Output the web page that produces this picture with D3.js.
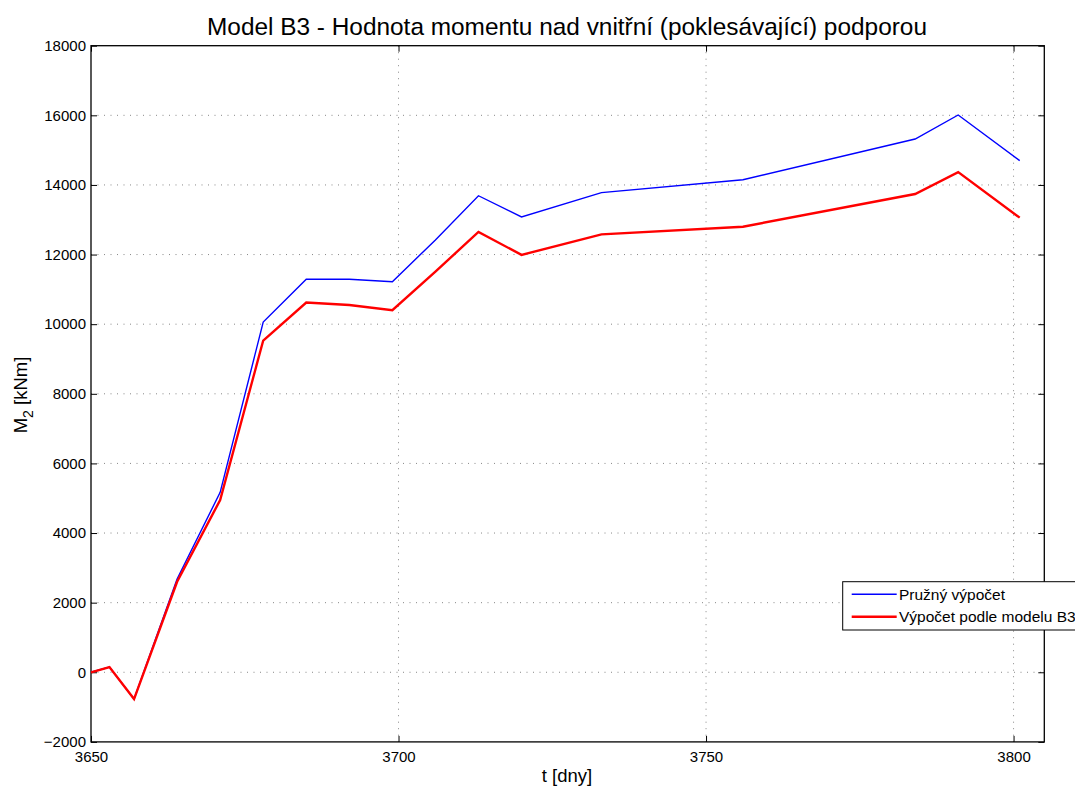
<!DOCTYPE html>
<html><head><meta charset="utf-8">
<script src="https://cdn.jsdelivr.net/npm/d3@7"></script>
<style>body{margin:0;background:#fff;} text{font-family:"Liberation Sans",Arial,sans-serif;}</style>
</head><body>
<svg id="c" width="1075" height="787"></svg>
<script>
const title = "Model B3 - Hodnota momentu nad vnitřní (poklesávající) podporou";
const tDays = [3650,3653,3657,3664,3671,3678,3685,3692,3699,3706,3713,3720,3733,3756,3784,3791,3801];
const elastic = [0,150,-770,2680,5170,10060,11290,11290,11220,12420,13690,13080,13780,14150,15320,16010,14700];
const modelB3 = [0,150,-770,2600,4950,9530,10620,10550,10400,11510,12650,11990,12580,12800,13740,14370,13060];
const xTicks = [3650,3700,3750,3800];
const yTicks = [-2000,0,2000,4000,6000,8000,10000,12000,14000,16000,18000];
const seriesNames = ["Pružný výpočet","Výpočet podle modelu B3"];
const seriesColors = ["#0000ff","#ff0000"];

const svg = d3.select("#c");
const L=91, R=1044.3, T=45.7, B=741.9;
const x = d3.scaleLinear().domain([3650,3805]).range([L,R]);
const y = d3.scaleLinear().domain([-2000,18000]).range([B,T]);

// grid
const g = svg.append("g");
g.selectAll(".gx").data(xTicks.filter(d=>d>3650)).enter().append("line")
  .attr("x1",d=>x(d)).attr("x2",d=>x(d)).attr("y1",T).attr("y2",B)
  .attr("stroke","#888").attr("stroke-width",1).attr("stroke-dasharray","1,5.5");
g.selectAll(".gy").data(yTicks.filter(d=>d>-2000 && d<18000)).enter().append("line")
  .attr("x1",L).attr("x2",R).attr("y1",d=>y(d)).attr("y2",d=>y(d))
  .attr("stroke","#888").attr("stroke-width",1).attr("stroke-dasharray","1,5.5");

// axes with inward ticks
const ax = svg.append("g");
const xb = ax.append("g").attr("transform",`translate(0,${B})`).call(d3.axisBottom(x).tickValues(xTicks).tickSize(-6).tickFormat(d3.format("d")));
const xt = ax.append("g").attr("transform",`translate(0,${T})`).call(d3.axisTop(x).tickValues(xTicks).tickSize(-6).tickFormat(""));
const yl = ax.append("g").attr("transform",`translate(${L},0)`).call(d3.axisLeft(y).tickValues(yTicks).tickSize(-6).tickFormat(d3.format("d")));
const yr = ax.append("g").attr("transform",`translate(${R},0)`).call(d3.axisRight(y).tickValues(yTicks).tickSize(-6).tickFormat(""));
ax.selectAll(".domain").remove();
ax.selectAll(".tick line").attr("stroke","#000");
ax.selectAll(".tick text").attr("fill","#000").style("font-size","15px").style("font-family","'Liberation Sans',Arial,sans-serif");
xb.selectAll(".tick text").attr("dy","0.71em").attr("y",9);
yl.selectAll(".tick text").attr("x",-5);
// box
svg.append("rect").attr("x",L).attr("y",T).attr("width",R-L).attr("height",B-T)
  .attr("fill","none").attr("stroke","#000").attr("stroke-width",1.3);

// lines
const line = d3.line().x((d,i)=>x(tDays[i])).y(d=>y(d));
svg.append("path").datum(elastic).attr("d",line).attr("fill","none").attr("stroke",seriesColors[0]).attr("stroke-width",1.4);
svg.append("path").datum(modelB3).attr("d",line).attr("fill","none").attr("stroke",seriesColors[1]).attr("stroke-width",2.4);

// title and labels
svg.append("text").attr("x",567).attr("y",35).attr("text-anchor","middle").style("font-size","24.4px").text(title);
svg.append("text").attr("x",567).attr("y",782).attr("text-anchor","middle").style("font-size","18.5px").text("t [dny]");
const yt = svg.append("text").attr("transform","translate(27,395) rotate(-90)").attr("text-anchor","middle").style("font-size","18.5px");
yt.append("tspan").text("M");
yt.append("tspan").attr("dy",6).style("font-size","14px").text("2");
yt.append("tspan").attr("dy",-6).text(" [kNm]");

// legend
const lg = svg.append("g");
lg.append("rect").attr("x",842.7).attr("y",581.7).attr("width",260).attr("height",48.3)
  .attr("fill","#fff").attr("stroke","#000").attr("stroke-width",1);
seriesNames.forEach((n,i)=>{
  const yy = [594.3,616.7][i];
  lg.append("line").attr("x1",851.7).attr("x2",896.7).attr("y1",yy).attr("y2",yy)
    .attr("stroke",seriesColors[i]).attr("stroke-width",i?2.4:1.4);
  lg.append("text").attr("x",899).attr("y",yy+5.5).style("font-size","15.5px").text(n);
});
</script>
</body></html>
